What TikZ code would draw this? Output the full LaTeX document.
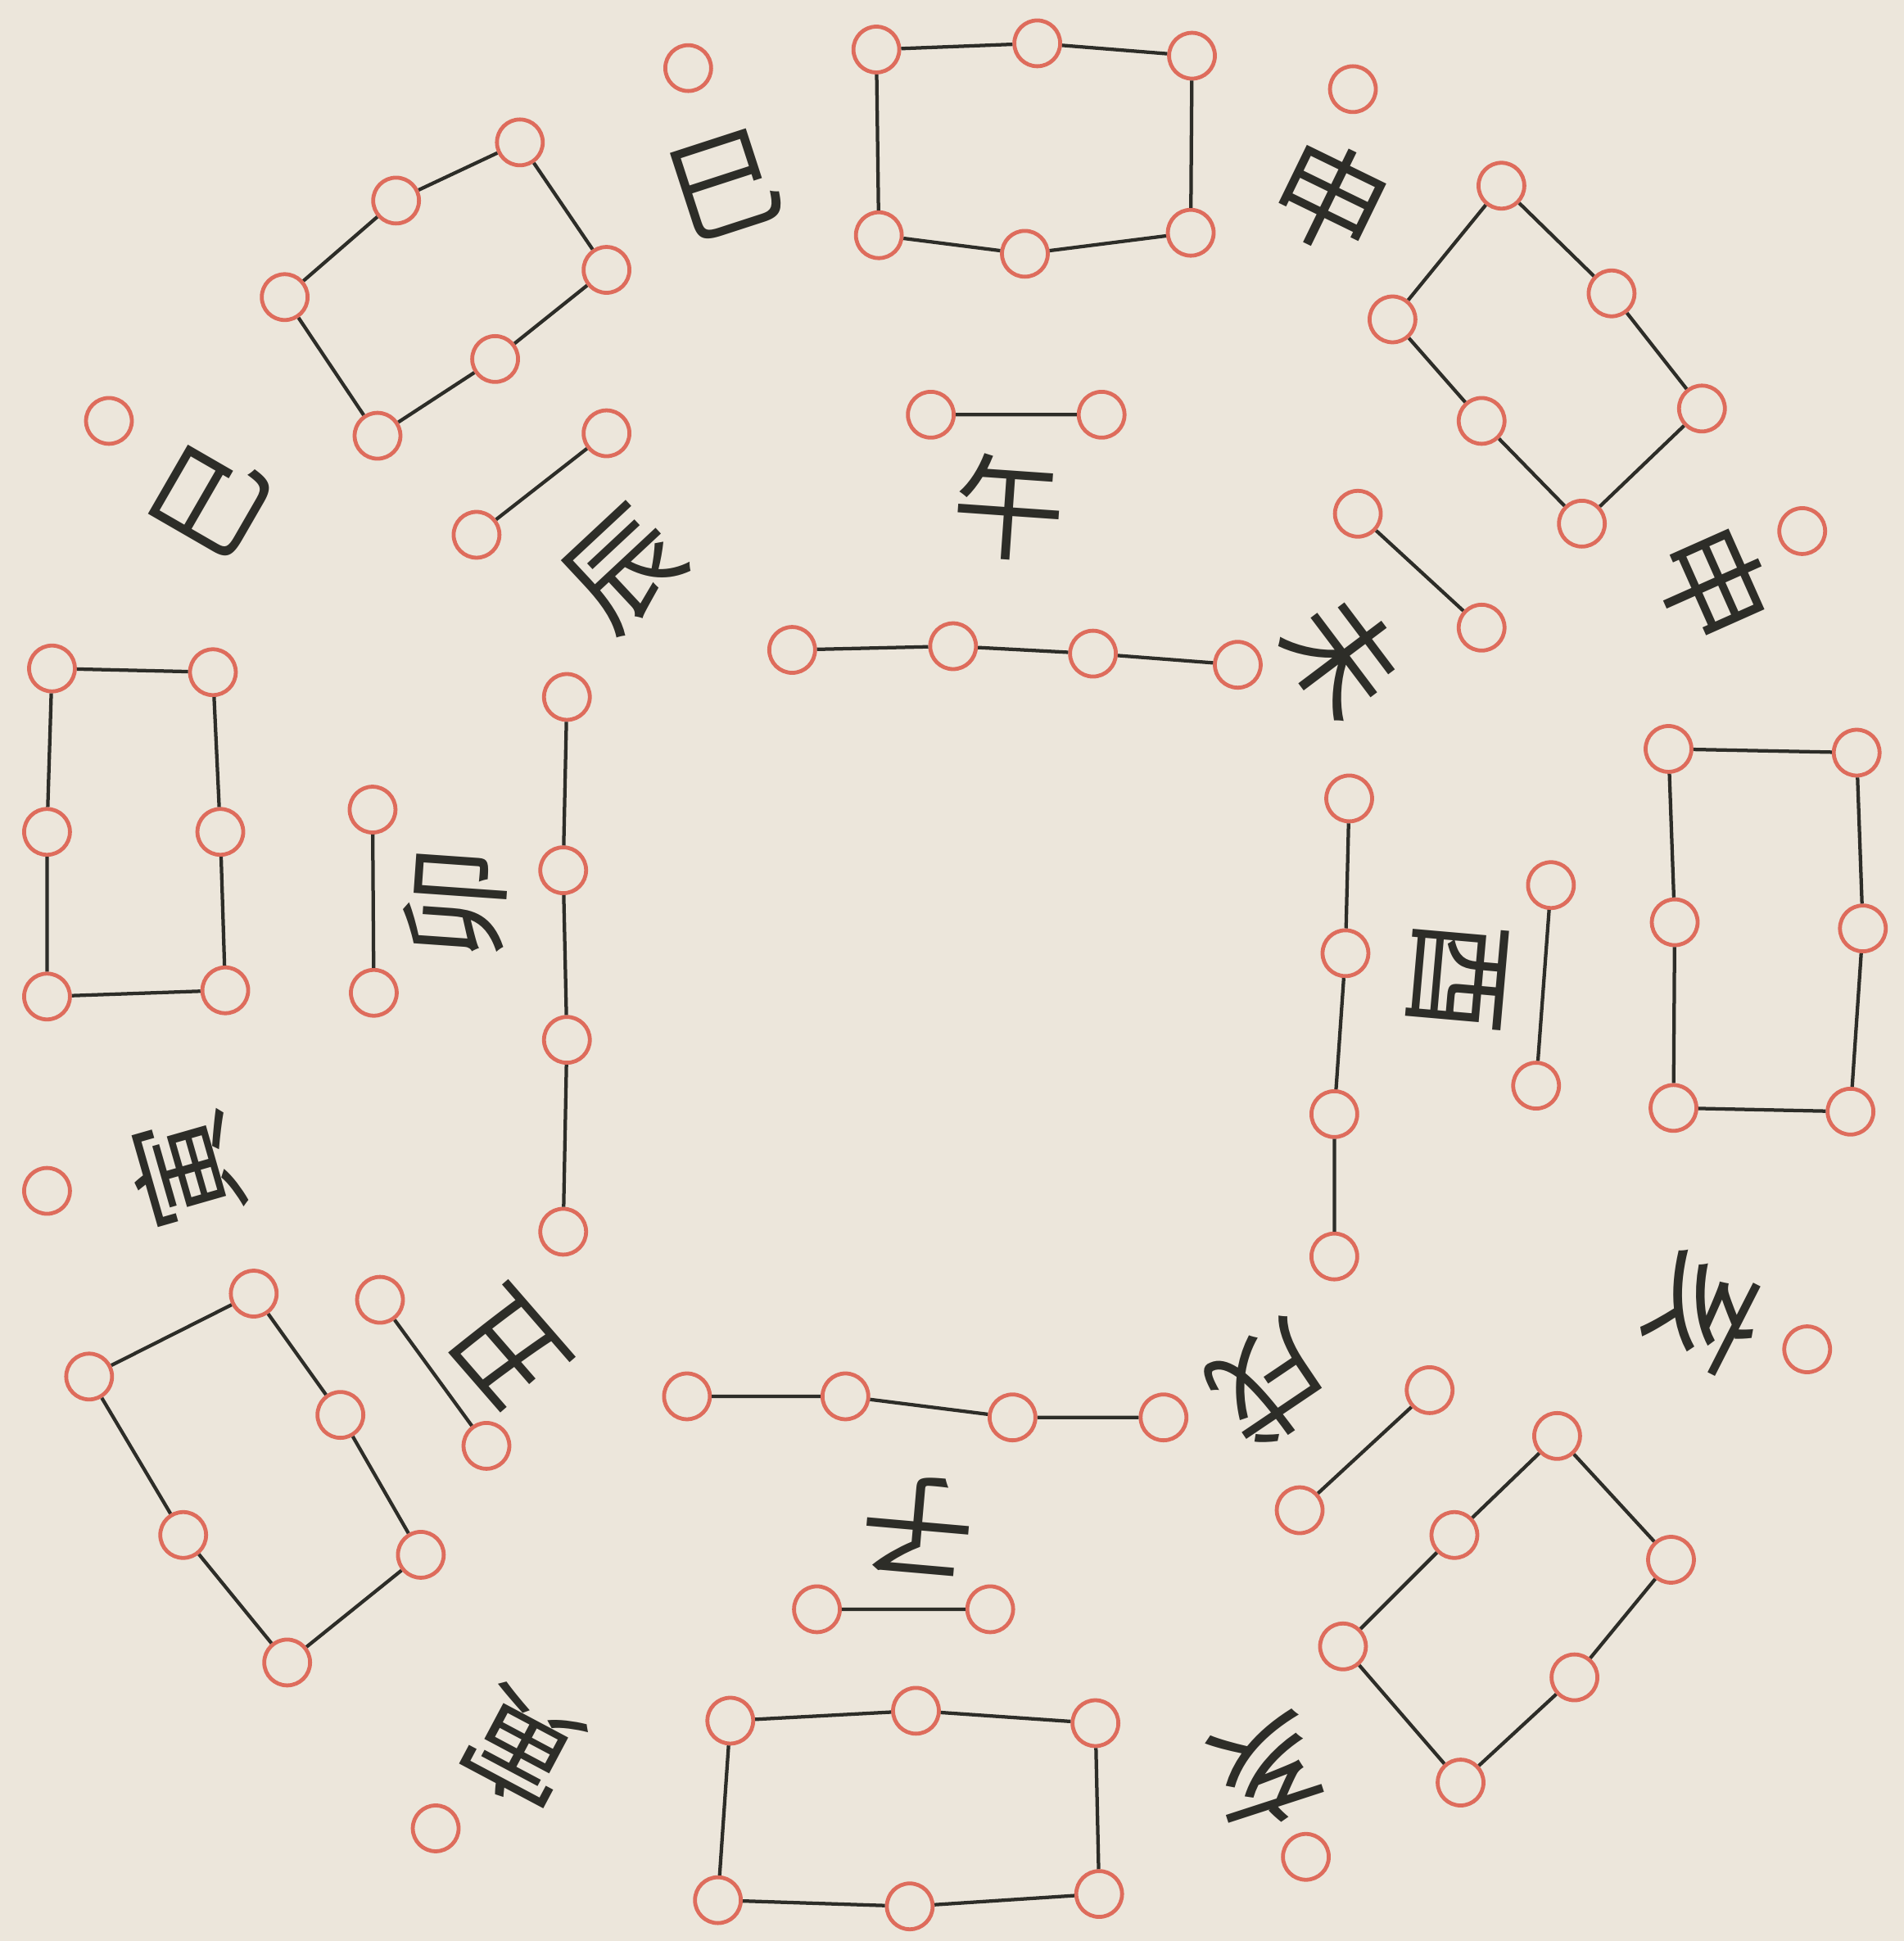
\documentclass[tikz,border=0pt]{standalone}
\usepackage{fontspec}
\newfontfamily\cjk{Noto Sans CJK SC}
\definecolor{paper}{RGB}{236,230,219}
\definecolor{cred}{RGB}{222,108,92}
\definecolor{ink}{RGB}{45,45,40}
\tikzset{
  dot/.style={circle, draw=cred, line width=0.9pt, fill=paper, minimum size=0.37cm, inner sep=0pt},
  ln/.style={draw=ink, line width=0.8pt},
  zh/.style={font=\cjk\fontsize{26}{26}\selectfont, text=ink, inner sep=0pt}
}
\begin{document}
\begin{tikzpicture}[x=0.01cm, y=-0.01cm]
\useasboundingbox (0,0) rectangle (1538,1568);
\fill[paper] (0,0) rectangle (1538,1568);
% ---- outer rectangles ----
% top
\node[dot] (t1) at (708,40) {};
\node[dot] (t2) at (838,35) {};
\node[dot] (t3) at (963,45) {};
\node[dot] (t4) at (710,190) {};
\node[dot] (t5) at (828,205) {};
\node[dot] (t6) at (962,188) {};
\draw[ln] (t1) -- (t2) (t2) -- (t3) (t1) -- (t4) (t3) -- (t6) (t4) -- (t5) (t5) -- (t6);
% upper left
\node[dot] (u1) at (420,115) {};
\node[dot] (u2) at (320,162) {};
\node[dot] (u3) at (230,240) {};
\node[dot] (u4) at (490,218) {};
\node[dot] (u5) at (400,290) {};
\node[dot] (u6) at (305,352) {};
\draw[ln] (u1) -- (u2) (u2) -- (u3) (u1) -- (u4) (u3) -- (u6) (u4) -- (u5) (u5) -- (u6);
% upper right
\node[dot] (r1) at (1213,150) {};
\node[dot] (r2) at (1125,258) {};
\node[dot] (r3) at (1197,340) {};
\node[dot] (r4) at (1278,423) {};
\node[dot] (r5) at (1375,330) {};
\node[dot] (r6) at (1302,237) {};
\draw[ln] (r1) -- (r2) (r2) -- (r3) (r3) -- (r4) (r4) -- (r5) (r5) -- (r6) (r6) -- (r1);
% right
\node[dot] (s1) at (1348,605) {};
\node[dot] (s2) at (1500,608) {};
\node[dot] (s3) at (1353,745) {};
\node[dot] (s4) at (1505,750) {};
\node[dot] (s5) at (1352,895) {};
\node[dot] (s6) at (1495,898) {};
\draw[ln] (s1) -- (s2) (s1) -- (s3) (s3) -- (s5) (s2) -- (s4) (s4) -- (s6) (s5) -- (s6);
% lower right
\node[dot] (w1) at (1258,1160) {};
\node[dot] (w2) at (1175,1240) {};
\node[dot] (w3) at (1085,1330) {};
\node[dot] (w4) at (1180,1440) {};
\node[dot] (w5) at (1272,1355) {};
\node[dot] (w6) at (1350,1260) {};
\draw[ln] (w1) -- (w2) (w2) -- (w3) (w3) -- (w4) (w4) -- (w5) (w5) -- (w6) (w6) -- (w1);
% bottom
\node[dot] (b1) at (590,1390) {};
\node[dot] (b2) at (740,1382) {};
\node[dot] (b3) at (885,1392) {};
\node[dot] (b4) at (580,1535) {};
\node[dot] (b5) at (735,1540) {};
\node[dot] (b6) at (888,1530) {};
\draw[ln] (b1) -- (b2) (b2) -- (b3) (b1) -- (b4) (b3) -- (b6) (b4) -- (b5) (b5) -- (b6);
% lower left
\node[dot] (v1) at (205,1045) {};
\node[dot] (v2) at (72,1112) {};
\node[dot] (v3) at (148,1240) {};
\node[dot] (v4) at (232,1343) {};
\node[dot] (v5) at (340,1256) {};
\node[dot] (v6) at (275,1143) {};
\draw[ln] (v1) -- (v2) (v2) -- (v3) (v3) -- (v4) (v4) -- (v5) (v5) -- (v6) (v6) -- (v1);
% left
\node[dot] (l1) at (42,540) {};
\node[dot] (l2) at (172,543) {};
\node[dot] (l3) at (38,672) {};
\node[dot] (l4) at (178,672) {};
\node[dot] (l5) at (38,805) {};
\node[dot] (l6) at (182,800) {};
\draw[ln] (l1) -- (l2) (l1) -- (l3) (l3) -- (l5) (l2) -- (l4) (l4) -- (l6) (l5) -- (l6);
% isolated outer circles
\node[dot] (i1) at (556,55) {};
\node[dot] (i2) at (1093,72) {};
\node[dot] (i3) at (88,340) {};
\node[dot] (i4) at (1456,429) {};
\node[dot] (i5) at (1460,1090) {};
\node[dot] (i6) at (1055,1500) {};
\node[dot] (i7) at (352,1477) {};
\node[dot] (i8) at (38,962) {};
% ---- inner chains ----
\node[dot] (ct1) at (640,525) {};
\node[dot] (ct2) at (770,522) {};
\node[dot] (ct3) at (883,528) {};
\node[dot] (ct4) at (1000,537) {};
\draw[ln] (ct1) -- (ct2) (ct2) -- (ct3) (ct3) -- (ct4);
\node[dot] (cr1) at (1090,645) {};
\node[dot] (cr2) at (1087,770) {};
\node[dot] (cr3) at (1078,900) {};
\node[dot] (cr4) at (1078,1015) {};
\draw[ln] (cr1) -- (cr2) (cr2) -- (cr3) (cr3) -- (cr4);
\node[dot] (cb1) at (555,1128) {};
\node[dot] (cb2) at (683,1128) {};
\node[dot] (cb3) at (818,1145) {};
\node[dot] (cb4) at (940,1145) {};
\draw[ln] (cb1) -- (cb2) (cb2) -- (cb3) (cb3) -- (cb4);
\node[dot] (cl1) at (458,563) {};
\node[dot] (cl2) at (455,703) {};
\node[dot] (cl3) at (458,840) {};
\node[dot] (cl4) at (455,995) {};
\draw[ln] (cl1) -- (cl2) (cl2) -- (cl3) (cl3) -- (cl4);
% ---- inner pairs ----
\node[dot] (pw1) at (752,335) {};
\node[dot] (pw2) at (890,335) {};
\node[dot] (pn1) at (1097,415) {};
\node[dot] (pn2) at (1197,507) {};
\node[dot] (py1) at (1253,715) {};
\node[dot] (py2) at (1241,877) {};
\node[dot] (px1) at (1155,1123) {};
\node[dot] (px2) at (1050,1220) {};
\node[dot] (pz1) at (660,1300) {};
\node[dot] (pz2) at (800,1300) {};
\node[dot] (pc1) at (307,1050) {};
\node[dot] (pc2) at (393,1168) {};
\node[dot] (pm1) at (301,654) {};
\node[dot] (pm2) at (302,802) {};
\node[dot] (pd1) at (490,350) {};
\node[dot] (pd2) at (385,432) {};
\draw[ln] (pw1) -- (pw2) (pn1) -- (pn2) (py1) -- (py2) (px1) -- (px2)
          (pz1) -- (pz2) (pc1) -- (pc2) (pm1) -- (pm2) (pd1) -- (pd2);
% ---- characters ----
\node[zh, rotate=18]   (k1)  at (585,150)  {巳};
\node[zh, rotate=-26]  (k2)  at (1075,160) {申};
\node[zh, rotate=-66]  (k3)  at (1384,472) {申};
\node[zh, rotate=-117] (k4)  at (1378,1062) {亥};
\node[zh, rotate=-162] (k5)  at (1022,1432) {亥};
\node[zh, rotate=152]  (k6)  at (421,1413) {寅};
\node[zh, rotate=106]  (k7)  at (150,945)  {寅};
\node[zh, rotate=60]   (k8)  at (170,405)  {巳};
\node[zh, rotate=-4]   (k9)  at (815,410)  {午};
\node[zh, rotate=-53]  (k10) at (1085,530) {未};
\node[zh, rotate=-95]  (k11) at (1177,789) {酉};
\node[zh, rotate=-146] (k12) at (1026,1118) {戌};
\node[zh, rotate=175]  (k13) at (742,1232) {子};
\node[zh, rotate=131]  (k14) at (410,1090) {丑};
\node[zh, rotate=86]   (k15) at (368,730)  {卯};
\node[zh, rotate=43]   (k16) at (505,460)  {辰};
\end{tikzpicture}
\end{document}
